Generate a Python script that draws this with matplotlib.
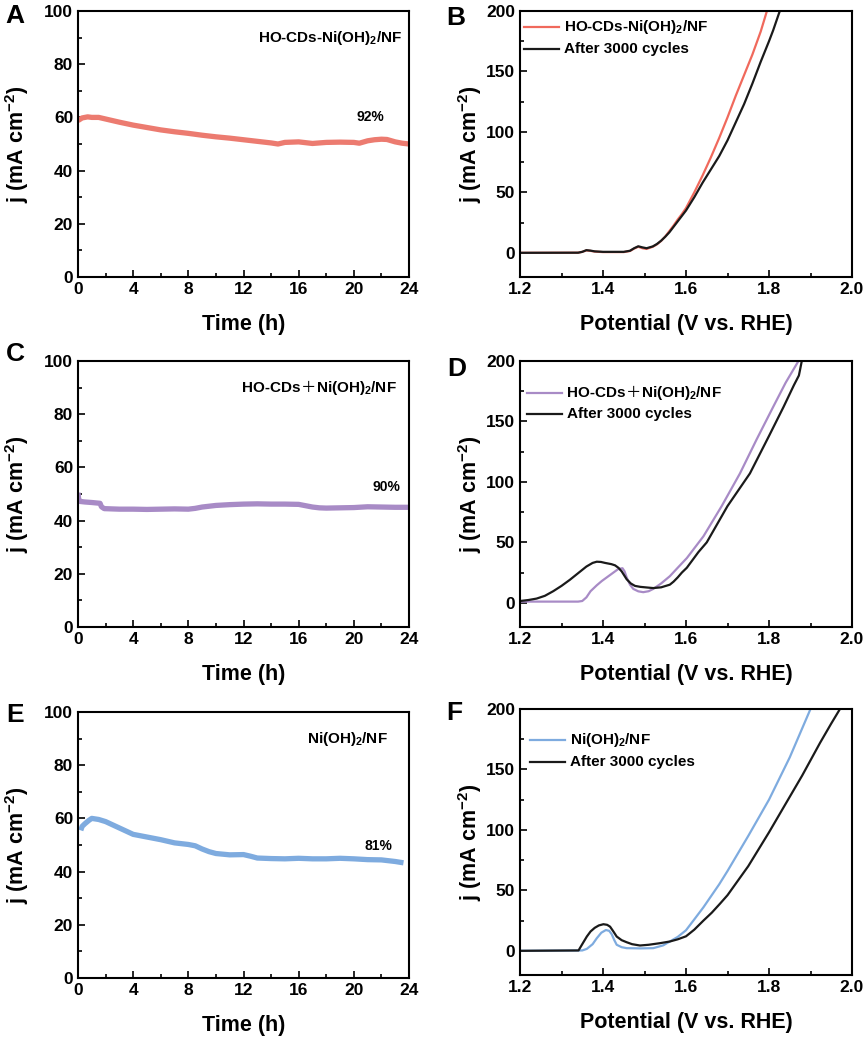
import matplotlib
matplotlib.use("Agg")
import matplotlib.pyplot as plt
from matplotlib.ticker import MultipleLocator, FormatStrFormatter
from matplotlib.offsetbox import TextArea, HPacker, VPacker, AnchoredOffsetbox, DrawingArea
from matplotlib.lines import Line2D

plt.rcParams['font.family'] = ['Liberation Sans', 'DejaVu Sans', 'Noto Sans CJK SC']
plt.rcParams['font.weight'] = 'bold'
plt.rcParams['mathtext.fontset'] = 'custom'
plt.rcParams['mathtext.rm'] = 'Liberation Sans:bold'
plt.rcParams['mathtext.it'] = 'Liberation Sans:bold'
plt.rcParams['mathtext.bf'] = 'Liberation Sans:bold'
plt.rcParams['mathtext.default'] = 'regular'

# ---------------- data ----------------
# A: HO-CDs-Ni(OH)2/NF stability
A_t = [0, 0.3, 0.7, 1.0, 1.5, 2.0, 3.0, 4.0, 5.0, 6.0, 7.0, 8.0, 9.0, 10.0, 11.0, 12.0,
       13.0, 14.0, 14.5, 15.0, 16.0, 17.0, 18.0, 19.0, 20.0, 20.4, 21.0, 21.5, 22.0, 22.4,
       23.0, 23.5, 24.0]
A_j = [58.8, 59.8, 60.2, 60.0, 60.0, 59.4, 58.2, 57.1, 56.2, 55.3, 54.6, 54.0, 53.3, 52.7,
       52.2, 51.6, 51.0, 50.4, 50.0, 50.6, 50.8, 50.2, 50.6, 50.7, 50.6, 50.3, 51.2, 51.6,
       51.8, 51.7, 50.8, 50.3, 50.0]

# C: HO-CDs+Ni(OH)2/NF stability
C_t = [0, 0.05, 0.15, 0.5, 1.0, 1.6, 1.7, 1.9, 3, 4, 5, 6, 7, 8, 8.5, 9, 10, 11, 12, 13,
       14, 15, 16, 16.5, 17, 17.5, 18, 19, 20, 21, 22, 23, 24]
C_j = [50.5, 48.0, 47.2, 47.0, 46.8, 46.5, 45.2, 44.5, 44.3, 44.3, 44.2, 44.3, 44.4, 44.3,
       44.6, 45.1, 45.7, 46.0, 46.2, 46.3, 46.2, 46.2, 46.1, 45.6, 45.1, 44.8, 44.7, 44.8,
       44.9, 45.2, 45.1, 45.0, 45.0]

# E: Ni(OH)2/NF stability
E_t = [0.2, 0.3, 0.5, 0.8, 1.0, 1.5, 2.0, 2.5, 3.0, 3.5, 4.0, 5.0, 6.0, 7.0, 8.0, 8.5, 9.0,
       9.5, 10.0, 11.0, 12.0, 12.5, 13.0, 14.0, 15.0, 16.0, 17.0, 18.0, 19.0, 20.0, 21.0,
       22.0, 23.0, 23.6]
E_j = [55.5, 57.0, 58.0, 59.3, 60.0, 59.6, 58.8, 57.6, 56.4, 55.2, 54.0, 53.0, 52.0, 50.8,
       50.2, 49.7, 48.5, 47.5, 46.8, 46.3, 46.4, 45.8, 45.1, 44.9, 44.8, 45.0, 44.8, 44.8,
       45.0, 44.8, 44.5, 44.4, 43.8, 43.3]

# B: LSV HO-CDs-Ni(OH)2/NF
B_v_init = [1.2, 1.34, 1.35, 1.36, 1.37, 1.38, 1.40, 1.45, 1.465, 1.475, 1.485, 1.495, 1.505,
            1.52, 1.53, 1.54, 1.55, 1.56, 1.57, 1.58, 1.59, 1.60, 1.62, 1.64, 1.66, 1.68,
            1.70, 1.72, 1.74, 1.76, 1.78, 1.795]
B_j_init = [0, 0.1, 0.8, 2.0, 1.6, 1.0, 0.6, 0.6, 1.5, 3.5, 5.0, 3.8, 3.2, 5.0, 7.0, 9.8,
            13.5, 18, 22.5, 27.5, 32, 37, 50, 64, 79, 95, 112, 130, 147, 164, 183, 200]
B_v_after = [1.2, 1.34, 1.35, 1.36, 1.37, 1.38, 1.40, 1.45, 1.465, 1.475, 1.485, 1.495, 1.505,
             1.52, 1.53, 1.54, 1.55, 1.56, 1.57, 1.58, 1.59, 1.60, 1.62, 1.64, 1.66, 1.68,
             1.70, 1.72, 1.74, 1.76, 1.78, 1.80, 1.81, 1.826]
B_j_after = [0, 0.1, 0.8, 2.2, 1.8, 1.2, 0.8, 0.8, 1.7, 3.8, 5.4, 4.5, 3.8, 5.3, 7.3, 10,
             13.3, 17, 21.5, 26, 30.5, 35, 46, 58, 69, 80, 93, 108, 123, 140, 158, 175,
             184, 200]

# D: LSV HO-CDs+Ni(OH)2/NF
D_v_init = [1.2, 1.34, 1.35, 1.36, 1.37, 1.385, 1.397, 1.407, 1.417, 1.427, 1.437, 1.447,
            1.452, 1.457, 1.465, 1.473, 1.485, 1.497, 1.51, 1.521, 1.54, 1.561, 1.58, 1.602,
            1.642, 1.686, 1.73, 1.77, 1.81, 1.84, 1.871]
D_j_init = [1.0, 1.0, 1.5, 4.5, 9.6, 14.5, 18, 20.5, 23, 25.5, 28, 28.6, 26, 21, 15, 11.5,
            9.5, 8.8, 9.6, 11.5, 16, 22, 29, 37, 55, 80, 107, 135, 162, 182, 200]
D_v_after = [1.2, 1.22, 1.24, 1.26, 1.28, 1.30, 1.32, 1.34, 1.36, 1.375, 1.385, 1.395,
             1.405, 1.42, 1.429, 1.437, 1.445, 1.457, 1.467, 1.477, 1.49, 1.505, 1.521,
             1.54, 1.561, 1.57, 1.58, 1.59, 1.602, 1.63, 1.65, 1.70, 1.754, 1.80, 1.835,
             1.86, 1.872, 1.875, 1.879]
D_j_after = [1.5, 2.3, 3.5, 5.8, 9.6, 14, 19, 24.5, 30, 33, 34, 33.8, 33, 32, 31, 29, 26,
             19.5, 16, 14, 13.2, 12.7, 12.2, 12.8, 15, 17.5, 21, 25, 29, 42, 50, 80, 107,
             138, 162, 180, 188, 193, 200]

# F: LSV Ni(OH)2/NF
F_v_init = [1.2, 1.35, 1.361, 1.375, 1.385, 1.396, 1.407, 1.415, 1.421, 1.427, 1.433, 1.445,
            1.457, 1.49, 1.521, 1.545, 1.561, 1.58, 1.60, 1.62, 1.642, 1.66, 1.68, 1.70,
            1.75, 1.80, 1.85, 1.90]
F_j_init = [0, 0.3, 1.6, 5.5, 10.4, 15, 17.2, 16.5, 13.7, 9, 5.0, 3.0, 2.2, 2.0, 2.2, 4.5,
            7.7, 11.5, 17, 26, 36, 45, 55, 66, 95, 125, 160, 200]
F_v_after = [1.2, 1.341, 1.35, 1.361, 1.37, 1.38, 1.39, 1.401, 1.41, 1.417, 1.425, 1.433,
             1.445, 1.457, 1.47, 1.489, 1.51, 1.537, 1.561, 1.58, 1.60, 1.62, 1.642, 1.662,
             1.682, 1.70, 1.75, 1.80, 1.834, 1.88, 1.923, 1.95, 1.971]
F_j_after = [0, 0.3, 5.5, 11.8, 16, 19, 21, 22, 21.5, 20, 16, 11.8, 8.8, 7.1, 5.5, 4.4, 5.0,
             6.3, 7.7, 9.5, 12, 17.5, 25, 31.5, 39, 46, 70, 98, 118, 145, 172, 188, 200]

time_ticks = [0, 4, 8, 12, 16, 20, 24]
pot_ticks = [1.2, 1.4, 1.6, 1.8, 2.0]

C_RED = '#EC7B70'
C_PUR = '#A88BC6'
C_BLUE = '#7EABDF'
C_RED_L = '#F0695C'
C_BLK = '#1a1a1a'

TICK_FS = 12.5
LAB_FS = 15.5
ANN_FS = 11

fig = plt.figure(figsize=(8.65, 10.39), dpi=100)

def ax_rect(px_left, px_top, px_w, px_h):
    W, H = 865.0, 1039.0
    return [px_left / W, 1 - (px_top + px_h) / H, px_w / W, px_h / H]

rows_top = [11, 361, 712]
rows_top_r = [11, 361, 709]
axL = [fig.add_axes(ax_rect(78, t, 331, 266)) for t in rows_top]
axR = [fig.add_axes(ax_rect(520, t, 332, 266)) for t in rows_top_r]

def style(ax):
    for s in ax.spines.values():
        s.set_linewidth(1.5)
    ax.tick_params(which='both', direction='in', top=False, right=False,
                   labelsize=TICK_FS, width=1.2)
    ax.tick_params(which='major', length=5)
    ax.tick_params(which='minor', length=3)
    for lab in ax.get_xticklabels() + ax.get_yticklabels():
        lab.set_fontweight('bold')

ylab = 'j (mA cm$^{-2}$)'
TP = dict(fontsize=ANN_FS, fontweight='bold', family=['Liberation Sans'])
TPC = dict(fontsize=ANN_FS, fontweight='normal', family=['Noto Sans CJK SC'])

def label_box(parts):
    kids = []
    for s, cjk in parts:
        kids.append(TextArea(s, textprops=TPC if cjk else TP))
    return HPacker(children=kids, align='baseline', pad=0, sep=0)

LBL_A = [('HO-CDs-Ni(OH)$_2$/NF', False)]
LBL_C = [('HO-CDs', False), ('\uff0b', True), ('Ni(OH)$_2$/NF', False)]
LBL_E = [('Ni(OH)$_2$/NF', False)]
LBL_AFTER = [('After 3000 cycles', False)]

# Left: stability
stab = [(A_t, A_j, C_RED, LBL_A, '92%', (21.2, 60.2), 0.98),
        (C_t, C_j, C_PUR, LBL_C, '90%', (22.4, 52.5), 0.963),
        (E_t, E_j, C_BLUE, LBL_E, '81%', (21.8, 49.5), 0.937)]
for ax, (t, j, c, lab, pct, ppos, xr) in zip(axL, stab):
    ax.plot(t, j, color=c, lw=3.8, solid_capstyle='butt')
    ax.set_xlim(0, 24)
    ax.set_ylim(0, 100)
    ax.set_xticks(time_ticks)
    ax.xaxis.set_minor_locator(MultipleLocator(2))
    ax.yaxis.set_major_locator(MultipleLocator(20))
    ax.yaxis.set_minor_locator(MultipleLocator(10))
    style(ax)
    ax.set_xlabel('Time (h)', fontsize=LAB_FS, fontweight='bold', labelpad=12)
    ax.set_ylabel(ylab, fontsize=LAB_FS, fontweight='bold')
    ax.yaxis.set_label_coords(-0.142, 0.5)
    ax.text(ppos[0], ppos[1], pct, fontsize=10, fontweight='bold', ha='center', va='center')
    anch = AnchoredOffsetbox(loc='center right', child=label_box(lab), frameon=False, pad=0,
                             borderpad=0, bbox_to_anchor=(xr, 0.90),
                             bbox_transform=ax.transAxes)
    ax.add_artist(anch)

def manual_legend(ax, entries, anchor, rowsep):
    rows = []
    for color, parts in entries:
        da = DrawingArea(25, 10, 0, 0)
        da.add_artist(Line2D([0, 25], [5, 5], color=color, lw=1.6))
        rows.append(HPacker(children=[da, label_box(parts)], align='center', pad=0, sep=3.5))
    box = VPacker(children=rows, align='left', pad=0, sep=rowsep)
    anch = AnchoredOffsetbox(loc='upper left', child=box, frameon=False, pad=0, borderpad=0,
                             bbox_to_anchor=anchor, bbox_transform=ax.transAxes)
    ax.add_artist(anch)

# Right: LSV
lsv = [(B_v_init, B_j_init, B_v_after, B_j_after, C_RED_L, LBL_A, (0.012, 0.975), 4.5),
       (D_v_init, D_j_init, D_v_after, D_j_after, C_PUR, LBL_C, (0.022, 0.915), 3.8),
       (F_v_init, F_j_init, F_v_after, F_j_after, C_BLUE, LBL_E, (0.031, 0.918), 4.5)]
for ax, (v1, j1, v2, j2, c, lab, anchor, rs) in zip(axR, lsv):
    ax.plot(v1, j1, color=c, lw=1.6)
    ax.plot(v2, j2, color=C_BLK, lw=1.6)
    ax.set_xlim(1.2, 2.0)
    ax.set_ylim(-20, 200)
    ax.set_xticks(pot_ticks)
    ax.xaxis.set_major_formatter(FormatStrFormatter('%.1f'))
    ax.xaxis.set_minor_locator(MultipleLocator(0.1))
    ax.yaxis.set_major_locator(MultipleLocator(50))
    ax.yaxis.set_minor_locator(MultipleLocator(25))
    style(ax)
    ax.set_xlabel('Potential (V vs. RHE)', fontsize=LAB_FS, fontweight='bold', labelpad=12)
    ax.set_ylabel(ylab, fontsize=LAB_FS, fontweight='bold')
    ax.yaxis.set_label_coords(-0.107, 0.5)
    manual_legend(ax, [(c, lab), (C_BLK, LBL_AFTER)], anchor, rs)

# panel letters
letters = [('A', 5, 4), ('B', 446, 6), ('C', 6, 342), ('D', 447, 357), ('E', 6, 703), ('F', 446, 701)]
for L, px, py in letters:
    fig.text(px / 865, 1 - py / 1039, L, fontsize=19, fontweight='bold', ha='left', va='top')

fig.savefig('out.png', dpi=100)
